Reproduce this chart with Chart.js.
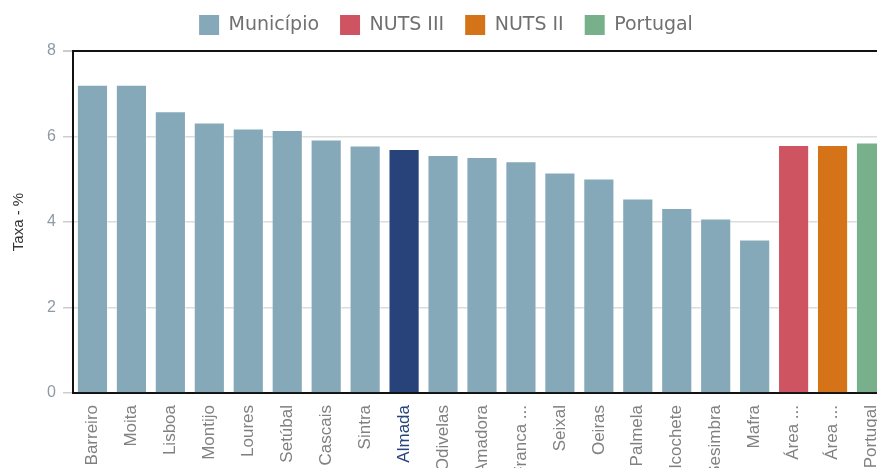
<!DOCTYPE html>
<html>
<head>
<meta charset="utf-8">
<script src="https://cdn.jsdelivr.net/npm/chart.js@4"></script>
<style>
  html, body { margin: 0; padding: 0; background: #fff; overflow: hidden; }
  #wrap { width: 877px; height: 468px; overflow: hidden; }
</style>
</head>
<body>
<div id="wrap"><canvas id="chart" width="896" height="468"></canvas></div>
<script>
// categories (labels as shown, already shortened in the source)
const categories = ["Barreiro", "Moita", "Lisboa", "Montijo", "Loures", "Setúbal", "Cascais",
    "Sintra", "Almada", "Odivelas", "Amadora", "Vila Franca ...", "Seixal", "Oeiras",
    "Palmela", "Alcochete", "Sesimbra", "Mafra", "Área ...", "Área ...", "Portugal"];

const municipio = [7.21, 7.21, 6.59, 6.33, 6.19, 6.15, 5.93, 5.79, 5.71, 5.57, 5.52, 5.42,
    5.16, 5.02, 4.55, 4.33, 4.08, 3.59, null, null, null];
const nuts3 = [null, null, null, null, null, null, null, null, null, null, null, null,
    null, null, null, null, null, null, 5.80, null, null];
const nuts2 = [null, null, null, null, null, null, null, null, null, null, null, null,
    null, null, null, null, null, null, null, 5.80, null];
const portugal = [null, null, null, null, null, null, null, null, null, null, null, null,
    null, null, null, null, null, null, null, null, 5.86];

const yTicks = [0, 2, 4, 6, 8];
const highlight = "Almada";

const blueGrey = "#85a9b9";
const darkBlue = "#27437a";

function barSet(label, data, color) {
    return {
        label: label,
        data: data,
        backgroundColor: color,
        borderColor: "rgba(255,255,255,0.45)",
        borderWidth: 1,
        barPercentage: 0.8,
        categoryPercentage: 1
    };
}

// push the plot a bit lower under the legend
const legendGap = {
    id: "legendGap",
    afterInit(chart) {
        const fit = chart.legend.fit;
        chart.legend.fit = function () {
            fit.call(this);
            this.height += 6;
        };
    }
};

const ctx = document.getElementById("chart");

new Chart(ctx, {
    type: "bar",
    plugins: [legendGap],
    data: {
        labels: categories,
        datasets: [
            barSet("Município", municipio, c => categories[c.dataIndex] === highlight ? darkBlue : blueGrey),
            barSet("NUTS III", nuts3, "#cd5460"),
            barSet("NUTS II", nuts2, "#d47317"),
            barSet("Portugal", portugal, "#77b08b")
        ]
    },
    options: {
        responsive: false,
        animation: false,
        devicePixelRatio: 1,
        layout: { padding: { left: 0, right: 4, top: -6, bottom: 0 } },
        plugins: {
            tooltip: { enabled: false },
            legend: {
                position: "top",
                labels: {
                    boxWidth: 20,
                    boxHeight: 20,
                    padding: 21,
                    color: "#666",
                    font: { family: "DejaVu Sans", size: 19 },
                    generateLabels(chart) {
                        return chart.data.datasets.map((ds, i) => ({
                            text: ds.label,
                            fillStyle: i === 0 ? blueGrey : ds.backgroundColor,
                            strokeStyle: "rgba(0,0,0,0)",
                            lineWidth: 0,
                            fontColor: "#707070",
                            datasetIndex: i
                        }));
                    }
                }
            }
        },
        scales: {
            x: {
                stacked: true,
                grid: { display: false },
                border: { color: "#111", width: 2 },
                ticks: {
                    autoSkip: false,
                    minRotation: 90,
                    maxRotation: 90,
                    padding: 4,
                    color: c => categories[c.index] === highlight ? darkBlue : "#808080",
                    font: { family: "Liberation Sans", size: 17 }
                },
                afterFit(scale) { scale.height = 75; }
            },
            y: {
                stacked: true,
                min: 0,
                max: 8,
                afterBuildTicks(scale) { scale.ticks = yTicks.map(v => ({ value: v })); },
                grid: {
                    color: c => c.tick && c.tick.value === 8 ? "#111" : "#dcdcdc",
                    lineWidth: c => c.tick && c.tick.value === 8 ? 2 : 1.5,
                    tickColor: "#ccc",
                    tickLength: 10
                },
                border: { color: "#111", width: 2 },
                ticks: {
                    padding: 7,
                    color: "#8f99a3",
                    font: { family: "Liberation Sans", size: 16 }
                },
                title: {
                    display: true,
                    text: "Taxa - %",
                    color: "#333",
                    padding: { top: 10, bottom: 0 },
                    font: { family: "Liberation Sans", size: 15 }
                },
                afterFit(scale) { scale.width = 73; }
            }
        }
    }
});
</script>
</body>
</html>
